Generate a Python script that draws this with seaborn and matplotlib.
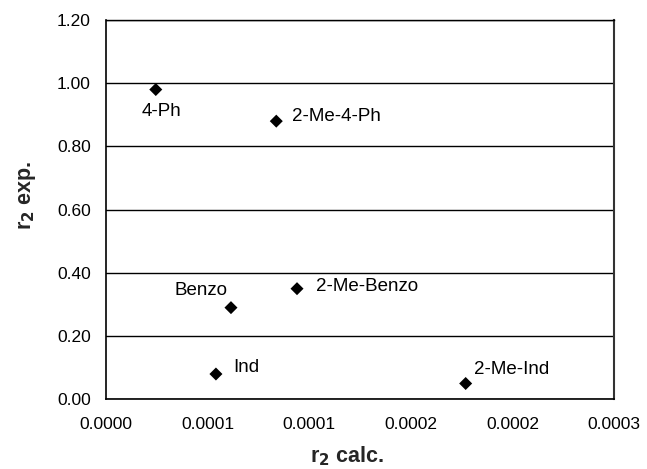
import matplotlib
matplotlib.use("Agg")
import matplotlib.pyplot as plt
import seaborn as sns
import pandas as pd

# r2 values: calculated vs experimental
names = ["4-Ph", "2-Me-4-Ph", "Benzo", "2-Me-Benzo", "Ind", "2-Me-Ind"]
r2_calc = [0.0000245, 0.0000838, 0.0000615, 0.0000940, 0.0000541, 0.000177]
r2_exp = [0.98, 0.88, 0.29, 0.35, 0.08, 0.05]

x_ticks = [0.0, 0.00005, 0.0001, 0.00015, 0.0002, 0.00025]
x_tick_labels = ["0.0000", "0.0001", "0.0001", "0.0002", "0.0002", "0.0003"]
y_ticks = [0.0, 0.2, 0.4, 0.6, 0.8, 1.0, 1.2]
y_tick_labels = ["0.00", "0.20", "0.40", "0.60", "0.80", "1.00", "1.20"]

# label placement relative to each marker (pixels) and alignment
label_offsets = {
    "4-Ph": (6, -21.5, "center"),
    "2-Me-4-Ph": (15.7, 4.7, "left"),
    "Benzo": (-30.4, 17.3, "center"),
    "2-Me-Benzo": (19, 2.3, "left"),
    "Ind": (17, 6.6, "left"),
    "2-Me-Ind": (8.6, 14, "left"),
}

df = pd.DataFrame({"name": names, "calc": r2_calc, "exp": r2_exp})

sns.set_style("white")
plt.rcParams["font.family"] = ["Liberation Sans", "DejaVu Sans"]

fig = plt.figure(figsize=(6.47, 4.69), dpi=100)
ax = fig.add_axes([106 / 647, 1 - 399.3 / 469, (614 - 106) / 647, (399.3 - 20) / 469])

ax.yaxis.grid(True, color="black", linewidth=1.0)
ax.set_axisbelow(True)

sns.scatterplot(data=df, x="calc", y="exp", marker="D", s=44, color="black",
                edgecolor="none", ax=ax, zorder=3, clip_on=False)

for n, xv, yv in zip(names, r2_calc, r2_exp):
    dx, dy, ha = label_offsets[n]
    ax.annotate(n, (xv, yv), xytext=(dx, dy), textcoords="offset pixels",
                ha=ha, va="center", fontsize=13.5, color="black")

ax.set_xlim(x_ticks[0], x_ticks[-1])
ax.set_ylim(y_ticks[0], y_ticks[-1])
ax.set_xticks(x_ticks)
ax.set_xticklabels(x_tick_labels)
ax.set_yticks(y_ticks)
ax.set_yticklabels(y_tick_labels)
ax.tick_params(axis="both", direction="out", length=5, width=1, color="black",
               labelsize=12.5, labelcolor="black", pad=6)
ax.tick_params(axis="x", pad=7.5)

for side in ["left", "bottom"]:
    ax.spines[side].set_color("black")
    ax.spines[side].set_linewidth(1.2)
ax.spines["right"].set_color("#333333")
ax.spines["right"].set_linewidth(1.5)
ax.spines["top"].set_color("black")
ax.spines["top"].set_linewidth(1.0)

ax.set_xlabel("r$_\\mathbf{2}$ calc.", fontsize=15.5, fontweight="bold")
ax.set_ylabel("r$_\\mathbf{2}$ exp.", fontsize=15.5, fontweight="bold")
ax.xaxis.set_label_coords((347 - 106) / (614 - 106), -(456 - 399.3) / (399.3 - 20))
ax.yaxis.set_label_coords(-(106 - 26.5) / (614 - 106), (399.3 - 195) / (399.3 - 20))
ax.xaxis.label.set_va("center")
ax.yaxis.label.set_va("center")

fig.savefig("out.png", dpi=100)
